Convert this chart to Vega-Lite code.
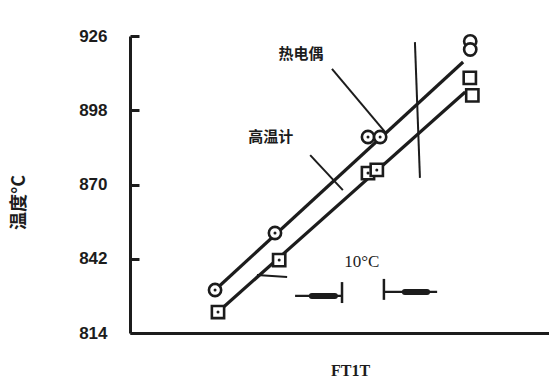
{
  "$schema": "https://vega.github.io/schema/vega-lite/v6.json",
  "width": 419,
  "height": 297,
  "autosize": {"type": "none"},
  "padding": {"left": 130, "top": 36, "right": 0, "bottom": 47},
  "background": "#ffffff",
  "config": {
    "view": {"stroke": null},
    "axis": {"grid": false}
  },
  "datasets": {
    "points": [
      {"series": "热电偶", "x": 20.3, "y": 830.2},
      {"series": "热电偶", "x": 34.6, "y": 851.7},
      {"series": "热电偶", "x": 56.8, "y": 887.9},
      {"series": "热电偶", "x": 59.7, "y": 887.9},
      {"series": "热电偶", "x": 81.2, "y": 924.0},
      {"series": "热电偶", "x": 81.2, "y": 920.9},
      {"series": "高温计", "x": 21.0, "y": 821.9},
      {"series": "高温计", "x": 35.6, "y": 841.5},
      {"series": "高温计", "x": 56.8, "y": 874.3},
      {"series": "高温计", "x": 58.9, "y": 875.5},
      {"series": "高温计", "x": 81.1, "y": 910.2},
      {"series": "高温计", "x": 81.7, "y": 903.6}
    ],
    "fit": [
      {"series": "热电偶", "x": 20.3, "y": 830.2},
      {"series": "热电偶", "x": 79.5, "y": 916.2},
      {"series": "高温计", "x": 21.0, "y": 821.9},
      {"series": "高温计", "x": 80.0, "y": 904.9}
    ],
    "leaders": [
      {"x": 48.2, "y": 913.6, "x2": 61.1, "y2": 889.4},
      {"x": 43.0, "y": 881.1, "x2": 50.8, "y2": 867.9},
      {"x": 30.3, "y": 835.9, "x2": 37.5, "y2": 835.1},
      {"x": 68.0, "y": 923.7, "x2": 69.2, "y2": 872.5}
    ],
    "bars": [
      {"x": 50.6, "y": 825.3, "x2": 50.6, "y2": 833.2},
      {"x": 60.6, "y": 826.5, "x2": 60.6, "y2": 834.4}
    ],
    "shafts": [
      {"x": 39.4, "y": 828.0, "x2": 50.6, "y2": 828.0},
      {"x": 60.6, "y": 829.5, "x2": 73.3, "y2": 829.5}
    ],
    "heads": [
      {"x": 43.4, "y": 828.0, "x2": 48.9, "y2": 828.0},
      {"x": 65.6, "y": 829.5, "x2": 70.9, "y2": 829.5}
    ],
    "labels": [
      {"text": "热电偶", "x": 40.8, "y": 919.2},
      {"text": "高温计", "x": 33.6, "y": 887.9}
    ],
    "notes": [
      {"text": "10°C", "x": 55.3, "y": 840.6}
    ]
  },
  "layer": [
    {
      "data": {"name": "fit"},
      "mark": {"type": "line", "stroke": "#1c1c1c", "strokeWidth": 3.2},
      "encoding": {
        "x": {
          "field": "x", "type": "quantitative",
          "scale": {"domain": [0, 100], "nice": false, "zero": false},
          "axis": {
            "title": "FT1T", "labels": false, "ticks": false,
            "domainColor": "#1c1c1c", "domainWidth": 3,
            "titleFont": "Liberation Serif", "titleFontSize": 16, "titleFontWeight": "bold",
            "titleColor": "#1c1c1c", "titleX": 220, "titleY": 37,
            "titleAlign": "center", "titleBaseline": "middle"
          }
        },
        "y": {
          "field": "y", "type": "quantitative",
          "scale": {"domain": [814, 926], "nice": false, "zero": false},
          "axis": {
            "title": "温度°C", "values": [814, 842, 870, 898, 926],
            "domainColor": "#1c1c1c", "domainWidth": 3,
            "tickColor": "#1c1c1c", "tickWidth": 3, "tickSize": -9,
            "labelPadding": 32,
            "labelFont": "Liberation Sans", "labelFontSize": 17, "labelFontWeight": "bold",
            "labelColor": "#1c1c1c",
            "titleFont": "Noto Sans CJK SC", "titleFontSize": 18, "titleFontWeight": "bold",
            "titleColor": "#1c1c1c", "titleAngle": -90, "titleX": -111, "titleY": 166,
            "titleAlign": "center", "titleBaseline": "middle"
          }
        },
        "detail": {"field": "series"}
      }
    },
    {
      "data": {"name": "leaders"},
      "mark": {"type": "rule", "stroke": "#1c1c1c", "strokeWidth": 2},
      "encoding": {
        "x": {"field": "x", "type": "quantitative"},
        "y": {"field": "y", "type": "quantitative"},
        "x2": {"field": "x2"},
        "y2": {"field": "y2"}
      }
    },
    {
      "data": {"name": "bars"},
      "mark": {"type": "rule", "stroke": "#1c1c1c", "strokeWidth": 2.5},
      "encoding": {
        "x": {"field": "x", "type": "quantitative"},
        "y": {"field": "y", "type": "quantitative"},
        "x2": {"field": "x2"},
        "y2": {"field": "y2"}
      }
    },
    {
      "data": {"name": "shafts"},
      "mark": {"type": "rule", "stroke": "#1c1c1c", "strokeWidth": 2.2},
      "encoding": {
        "x": {"field": "x", "type": "quantitative"},
        "y": {"field": "y", "type": "quantitative"},
        "x2": {"field": "x2"},
        "y2": {"field": "y2"}
      }
    },
    {
      "data": {"name": "heads"},
      "mark": {"type": "rule", "stroke": "#1c1c1c", "strokeWidth": 6, "strokeCap": "round"},
      "encoding": {
        "x": {"field": "x", "type": "quantitative"},
        "y": {"field": "y", "type": "quantitative"},
        "x2": {"field": "x2"},
        "y2": {"field": "y2"}
      }
    },
    {
      "data": {"name": "points"},
      "mark": {"type": "point", "filled": true, "fill": "#ffffff", "stroke": "#1c1c1c", "strokeWidth": 2.6, "opacity": 1},
      "encoding": {
        "x": {"field": "x", "type": "quantitative"},
        "y": {"field": "y", "type": "quantitative"},
        "shape": {
          "field": "series", "type": "nominal",
          "scale": {"domain": ["热电偶", "高温计"], "range": ["circle", "square"]},
          "legend": null
        },
        "size": {"value": 150}
      }
    },
    {
      "data": {"name": "points"},
      "transform": [{"filter": "datum.x < 75"}],
      "mark": {"type": "circle", "color": "#1c1c1c", "size": 9, "opacity": 1},
      "encoding": {
        "x": {"field": "x", "type": "quantitative"},
        "y": {"field": "y", "type": "quantitative"}
      }
    },
    {
      "data": {"name": "labels"},
      "mark": {"type": "text", "font": "Noto Sans CJK SC", "fontSize": 15, "fontWeight": "bold", "color": "#1c1c1c", "align": "center", "baseline": "middle"},
      "encoding": {
        "x": {"field": "x", "type": "quantitative"},
        "y": {"field": "y", "type": "quantitative"},
        "text": {"field": "text"}
      }
    },
    {
      "data": {"name": "notes"},
      "mark": {"type": "text", "font": "Liberation Serif", "fontSize": 17, "color": "#1c1c1c", "align": "center", "baseline": "middle"},
      "encoding": {
        "x": {"field": "x", "type": "quantitative"},
        "y": {"field": "y", "type": "quantitative"},
        "text": {"field": "text"}
      }
    }
  ]
}
